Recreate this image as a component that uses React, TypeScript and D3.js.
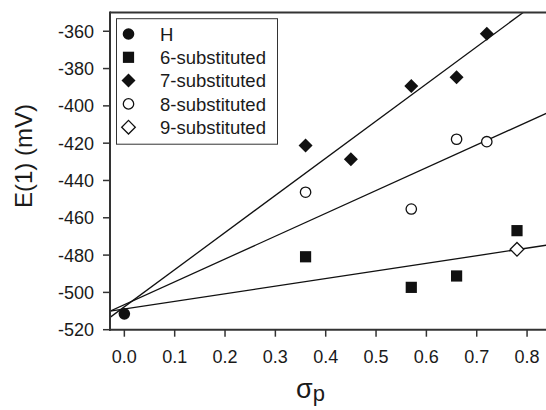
import React from "react";
import * as d3 from "d3";

const W = 546;
const H = 410;

const hX = [0.0];
const hY = [-511.5];
const sub6X = [0.36, 0.57, 0.66, 0.78];
const sub6Y = [-480.9, -497.3, -491.2, -466.9];
const sub7X = [0.36, 0.45, 0.57, 0.66, 0.72];
const sub7Y = [-421.3, -428.6, -389.3, -384.7, -361.3];
const sub8X = [0.36, 0.57, 0.66, 0.72];
const sub8Y = [-446.3, -455.3, -417.9, -419.2];
const sub9X = [0.78];
const sub9Y = [-476.9];

const xTicks = [0, 0.1, 0.2, 0.3, 0.4, 0.5, 0.6, 0.7, 0.8];
const yTicks = [-520, -500, -480, -460, -440, -420, -400, -380, -360];
const legendLabels = ["H", "6-substituted", "7-substituted", "8-substituted", "9-substituted"];

const FONT = "'Liberation Sans', Arial, Helvetica, sans-serif";
const INK = "#1a1a1a";

function fit(xs: number[], ys: number[]) {
  const mx = d3.mean(xs)!;
  const my = d3.mean(ys)!;
  let sxy = 0, sxx = 0;
  xs.forEach((x, i) => {
    sxy += (x - mx) * (ys[i] - my);
    sxx += (x - mx) * (x - mx);
  });
  const b = sxy / sxx;
  return { a: my - b * mx, b };
}

function Marker({ kind, cx, cy }: { kind: string; cx: number; cy: number }) {
  if (kind === "circle") return <circle cx={cx} cy={cy} r={5.8} fill="#111" />;
  if (kind === "square") return <rect x={cx - 5.6} y={cy - 5.6} width={11.2} height={11.2} fill="#111" />;
  if (kind === "diamond")
    return <path d={`M${cx},${cy - 7}L${cx + 7},${cy}L${cx},${cy + 7}L${cx - 7},${cy}Z`} fill="#111" />;
  if (kind === "ocircle") return <circle cx={cx} cy={cy} r={5.2} fill="white" stroke="#111" strokeWidth={1.3} />;
  return (
    <path
      d={`M${cx},${cy - 6.8}L${cx + 6.8},${cy}L${cx},${cy + 6.8}L${cx - 6.8},${cy}Z`}
      fill="white"
      stroke="#111"
      strokeWidth={1.3}
    />
  );
}

export default function App() {
  const x = d3.scaleLinear().domain([-0.0285, 0.85]).range([110, 110 + 0.8785 * 503.4]);
  const y = d3.scaleLinear().domain([-520, -350]).range([329.7, 12.6]);
  const left = 110;
  const right = x(0.85);
  const top = y(-350);
  const bottom = y(-520);

  const fits = [
    fit([...hX, ...sub7X], [...hY, ...sub7Y]),
    fit([...hX, ...sub8X], [...hY, ...sub8Y]),
    fit([...hX, ...sub6X], [...hY, ...sub6Y]),
  ];
  const xs0 = -0.0285;
  const xs1 = 0.85;

  const series = [
    { kind: "circle", xs: hX, ys: hY },
    { kind: "square", xs: sub6X, ys: sub6Y },
    { kind: "diamond", xs: sub7X, ys: sub7Y },
    { kind: "ocircle", xs: sub8X, ys: sub8Y },
    { kind: "odiamond", xs: sub9X, ys: sub9Y },
  ];

  return (
    <svg
      width={W}
      height={H}
      style={{ position: "absolute", left: 0, top: 0, background: "white" }}
      fontFamily={FONT}
    >
      <defs>
        <clipPath id="plot">
          <rect x={left} y={top} width={right - left} height={bottom - top} />
        </clipPath>
      </defs>
      <rect width={W} height={H} fill="white" />
      {/* regression lines */}
      <g clipPath="url(#plot)">
        {fits.map((f, i) => (
          <line
            key={i}
            x1={x(xs0)}
            y1={y(f.a + f.b * xs0)}
            x2={x(xs1)}
            y2={y(f.a + f.b * xs1)}
            stroke="#111"
            strokeWidth={1.3}
          />
        ))}
      </g>
      {/* markers */}
      {series.map((s, si) =>
        s.xs.map((v, i) => <Marker key={`${si}-${i}`} kind={s.kind} cx={x(v)} cy={y(s.ys[i])} />)
      )}
      {/* axes frame */}
      <line x1={left} y1={top} x2={right} y2={top} stroke="#333" strokeWidth={2} />
      <line x1={left} y1={top - 1} x2={left} y2={bottom + 1} stroke="#333" strokeWidth={2} />
      <line x1={left - 1} y1={bottom} x2={right} y2={bottom} stroke="#333" strokeWidth={2} />
      {/* y ticks */}
      {yTicks.map((t) => (
        <g key={t}>
          <line x1={left - 7} x2={left} y1={y(t)} y2={y(t)} stroke="#333" strokeWidth={1.5} />
          <text x={94} y={y(t)} dy="0.36em" textAnchor="end" fontSize={18} fill={INK}>
            {t}
          </text>
        </g>
      ))}
      {/* x ticks */}
      {xTicks.map((t) => (
        <g key={t}>
          <line x1={x(t)} x2={x(t)} y1={bottom} y2={bottom + 7} stroke="#333" strokeWidth={1.5} />
          <text x={x(t)} y={363} textAnchor="middle" fontSize={18} fill={INK}>
            {d3.format(".1f")(t)}
          </text>
        </g>
      ))}
      {/* axis titles */}
      <text transform="translate(32,156) rotate(-90)" textAnchor="middle" fontSize={24} fill={INK}>
        E(1) (mV)
      </text>
      <text x={296} y={398} fontSize={27} fill={INK}>
        σ<tspan fontSize={22} dy={3}>p</tspan>
      </text>
      {/* legend */}
      <rect x={116.5} y={18.7} width={161} height={125.5} fill="white" stroke="#333" strokeWidth={1} />
      {legendLabels.map((lab, i) => {
        const cy = 34 + i * 23.3;
        return (
          <g key={lab}>
            <Marker kind={series[i].kind} cx={128.5} cy={cy} />
            <text x={160} y={cy} dy="0.36em" fontSize={18.5} fill={INK}>
              {lab}
            </text>
          </g>
        );
      })}
    </svg>
  );
}
